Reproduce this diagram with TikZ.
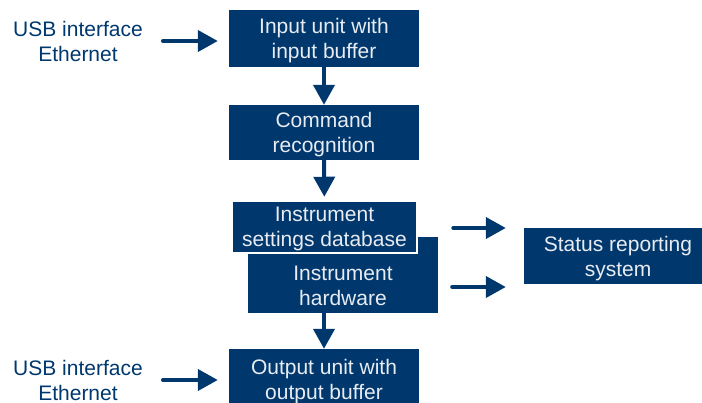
\documentclass[tikz,border=0pt]{standalone}
\usepackage{fontspec}
\setmainfont{Liberation Sans}
\usetikzlibrary{arrows.meta}
\definecolor{rsblue}{RGB}{0,56,110}
\definecolor{boxtext}{RGB}{232,236,242}

\begin{document}
\begin{tikzpicture} [x=1pt,y=-1pt,
  block/.style={fill=rsblue, text=boxtext, align=center, inner sep=0pt, text depth=-4pt,
    minimum width=190pt, font=\fontsize{21}{25}\selectfont},
  side/.style={text=rsblue, align=center, inner sep=0pt, font=\fontsize{21}{25}\selectfont},
  flow/.style={draw=rsblue, line width=4pt, line cap=round, -{Triangle[length=20pt,width=21pt]}}]

\useasboundingbox (0,0) rectangle (702,402);

%\draw [step=50, dotted] (0,0) grid (702,402);

\node [side] (usb1) at (78,41) {USB interface\\Ethernet};
\node [side] (usb2) at (78,380) {USB interface\\Ethernet};

\node [block, minimum height=57pt] (in) at (324,38.5) {Input unit with\\input buffer};
\node [block, minimum height=55pt] (cmd) at (324,132.5) {Command\\recognition};
\node [block, minimum height=76pt,
  label={[text=boxtext, align=center, font=\fontsize{21}{25}\selectfont, yshift=-11pt]center:Instrument\\hardware}]
  (hw) at (343,275) {};
\node [block, draw=white, line width=2.5pt, minimum width=185pt, minimum height=52pt] (db) at (324.5,227) {Instrument\\settings database};
\node [block, minimum height=60pt] (out) at (324,379) {Output unit with\\output buffer};
\node [block, minimum width=178pt, minimum height=56pt] (status) at (613,256) {\hspace*{10pt}Status reporting\\\hspace*{10pt}system};

\draw [flow, shorten <=20pt, shorten >=11pt] (usb1.east) -- (usb1.east -| in.west);
\draw [flow, shorten <=20pt, shorten >=11pt] (usb2.east) -- (usb2.east -| out.west);
\draw [flow] (in) -- (cmd);
\draw [flow, shorten >=3pt] (cmd) -- (db);
\draw [flow] (hw.south -| out.north) -- (out.north);
\draw [flow, shorten <=35pt, shorten >=18pt] ([yshift=-1pt]db.east) -- ([yshift=-1pt]db.east -| status.west);
\draw [flow, shorten <=14pt, shorten >=18pt] ([yshift=-12pt]hw.east) -- ([yshift=-12pt]hw.east -| status.west);

\end{tikzpicture}
\end{document}
